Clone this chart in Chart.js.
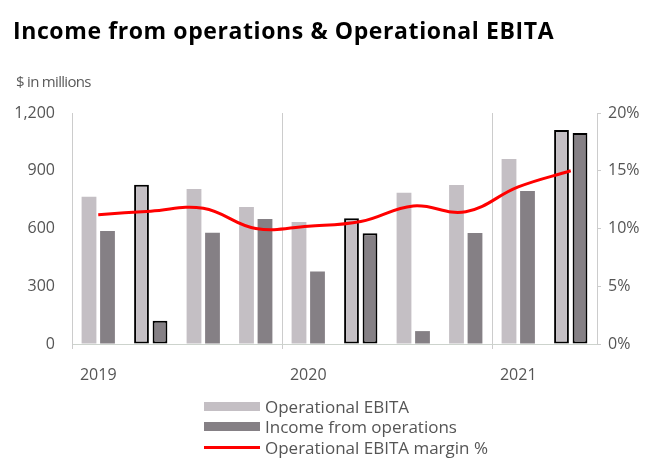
<!DOCTYPE html>
<html lang="en">
  <head>
    <meta charset="UTF-8" />
    <title>Income from operations & Operational EBITA</title>
    <style>
      body {
        margin: 0;
        width: 669px;
        height: 467px;
        position: relative;
        overflow: hidden;
        background: #fff;
        font-family: "Open Sans", sans-serif;
      }
      .title {
        position: absolute;
        left: 13px;
        top: 15px;
        margin: 0;
        font-size: 23px;
        letter-spacing: 0.6px;
        line-height: 30px;
        font-weight: bold;
        color: #000;
      }
      .unit {
        position: absolute;
        left: 16px;
        top: 71px;
        font-size: 15px;
        letter-spacing: -0.7px;
        line-height: 20px;
        color: #5a5a5a;
      }
      #chartBox {
        position: absolute;
        left: 0;
        top: 0;
        width: 669px;
        height: 467px;
      }
      #legend {
        position: absolute;
        left: 204px;
        top: 396px;
        font-size: 17px;
        color: #555;
      }
      #legend div {
        display: flex;
        align-items: center;
        height: 20.5px;
      }
      #legend span.box {
        display: inline-block;
        width: 56px;
        margin-right: 5px;
      }
    </style>
    <script src="https://cdn.jsdelivr.net/npm/chart.js"></script>
  </head>
  <body>
    <div id="chartBox"><canvas id="incomeChart" width="669" height="467"></canvas></div>
    <h1 class="title">Income from operations &amp; Operational EBITA</h1>
    <div class="unit">$ in millions</div>
    <div id="legend"></div>
    <script>
      const quarters = [
        "Q1 2019", "Q2 2019", "Q3 2019", "Q4 2019",
        "Q1 2020", "Q2 2020", "Q3 2020", "Q4 2020",
        "Q1 2021", "Q2 2021",
      ];
      const yearLabels = ["2019", "", "", "", "2020", "", "", "", "2021", ""];
      const operationalEbita = [765, 827, 805, 712, 634, 653, 786, 826, 961, 1112];
      const incomeFromOps = [587, 121, 578, 649, 376, 575, 67, 577, 795, 1096];
      const ebitaMargin = [11.2, 11.5, 11.75, 10.0, 10.2, 10.6, 11.95, 11.45, 13.6, 15.0];
      const highlighted = [false, true, false, false, false, true, false, false, false, true];
      const leftTicks = [0, 300, 600, 900, 1200];

      const axisGrey = "#cccccc";
      const textGrey = "#555";
      const borders = highlighted.map((h) => (h ? 2 : 0));

      const data = {
        labels: quarters,
        datasets: [
          {
            type: "bar",
            label: "Operational EBITA",
            data: operationalEbita,
            backgroundColor: "#c4bfc4",
            borderColor: "#000",
            borderWidth: borders,
            borderSkipped: false,
            yAxisID: "y",
            order: 1,
          },
          {
            type: "bar",
            label: "Income from operations",
            data: incomeFromOps,
            backgroundColor: "#858085",
            borderColor: "#000",
            borderWidth: borders,
            borderSkipped: false,
            yAxisID: "y",
            order: 1,
          },
          {
            type: "line",
            label: "Operational EBITA margin %",
            data: ebitaMargin,
            borderColor: "#ff0000",
            backgroundColor: "#ff0000",
            borderWidth: 3,
            pointRadius: 0,
            tension: 0.4,
            yAxisID: "y1",
            order: 0,
          },
        ],
      };

      const tickFont = { family: "'Open Sans', sans-serif", size: 16 };

      const config = {
        data: data,
        options: {
          responsive: false,
          animation: false,
          layout: { padding: { top: 113, left: 0, right: 0, bottom: 0 } },
          categoryPercentage: 0.705,
          barPercentage: 0.8,
          plugins: {
            legend: { display: false },
            tooltip: { enabled: false },
          },
          scales: {
            x: {
              offset: true,
              grid: {
                offset: true,
                drawOnChartArea: true,
                tickLength: 5,
                color: (ctx) =>
                  ctx.index === 0 || ctx.index === 4 || ctx.index === 8
                    ? axisGrey
                    : "rgba(0,0,0,0)",
              },
              border: { display: true, color: "#cdd3cd" },
              ticks: {
                color: textGrey,
                font: tickFont,
                padding: 17,
                maxRotation: 0,
                autoSkip: false,
                callback: (val, i) => yearLabels[i],
              },
              afterFit: (s) => {
                s.height = 467 - 344;
              },
            },
            y: {
              position: "left",
              min: 0,
              max: 1200,
              grid: { drawOnChartArea: false, drawTicks: false },
              border: { display: true, color: axisGrey },
              afterBuildTicks: (s) => {
                s.ticks = leftTicks.map((v) => ({ value: v }));
              },
              ticks: {
                color: textGrey,
                font: tickFont,
                padding: 17,
                callback: (v) => v.toLocaleString("en-US"),
              },
              afterFit: (s) => {
                s.width = 72;
              },
            },
            y1: {
              position: "right",
              min: 0,
              max: 20,
              grid: { drawOnChartArea: false, tickLength: 4, color: axisGrey },
              border: { display: true, color: axisGrey },
              ticks: {
                stepSize: 5,
                color: textGrey,
                font: tickFont,
                padding: 7,
                callback: (v) => v + "%",
              },
              afterFit: (s) => {
                s.width = 669 - 597;
              },
            },
          },
        },
      };

      const incomeChart = new Chart(document.getElementById("incomeChart"), config);

      // legend stacked one item per row, built from the chart's own labels
      const legendBox = document.getElementById("legend");
      Chart.defaults.plugins.legend.labels
        .generateLabels(incomeChart)
        .sort((a, b) => a.datasetIndex - b.datasetIndex)
        .forEach((item) => {
          const ds = incomeChart.data.datasets[item.datasetIndex];
          const row = document.createElement("div");
          const box = document.createElement("span");
          box.className = "box";
          if (ds.type === "line") {
            box.style.height = "3px";
            box.style.background = ds.borderColor;
          } else {
            box.style.height = "9px";
            box.style.background = ds.backgroundColor;
          }
          row.appendChild(box);
          const txt = document.createElement("span");
          txt.textContent = item.text;
          row.appendChild(txt);
          legendBox.appendChild(row);
        });
    </script>
  </body>
</html>
